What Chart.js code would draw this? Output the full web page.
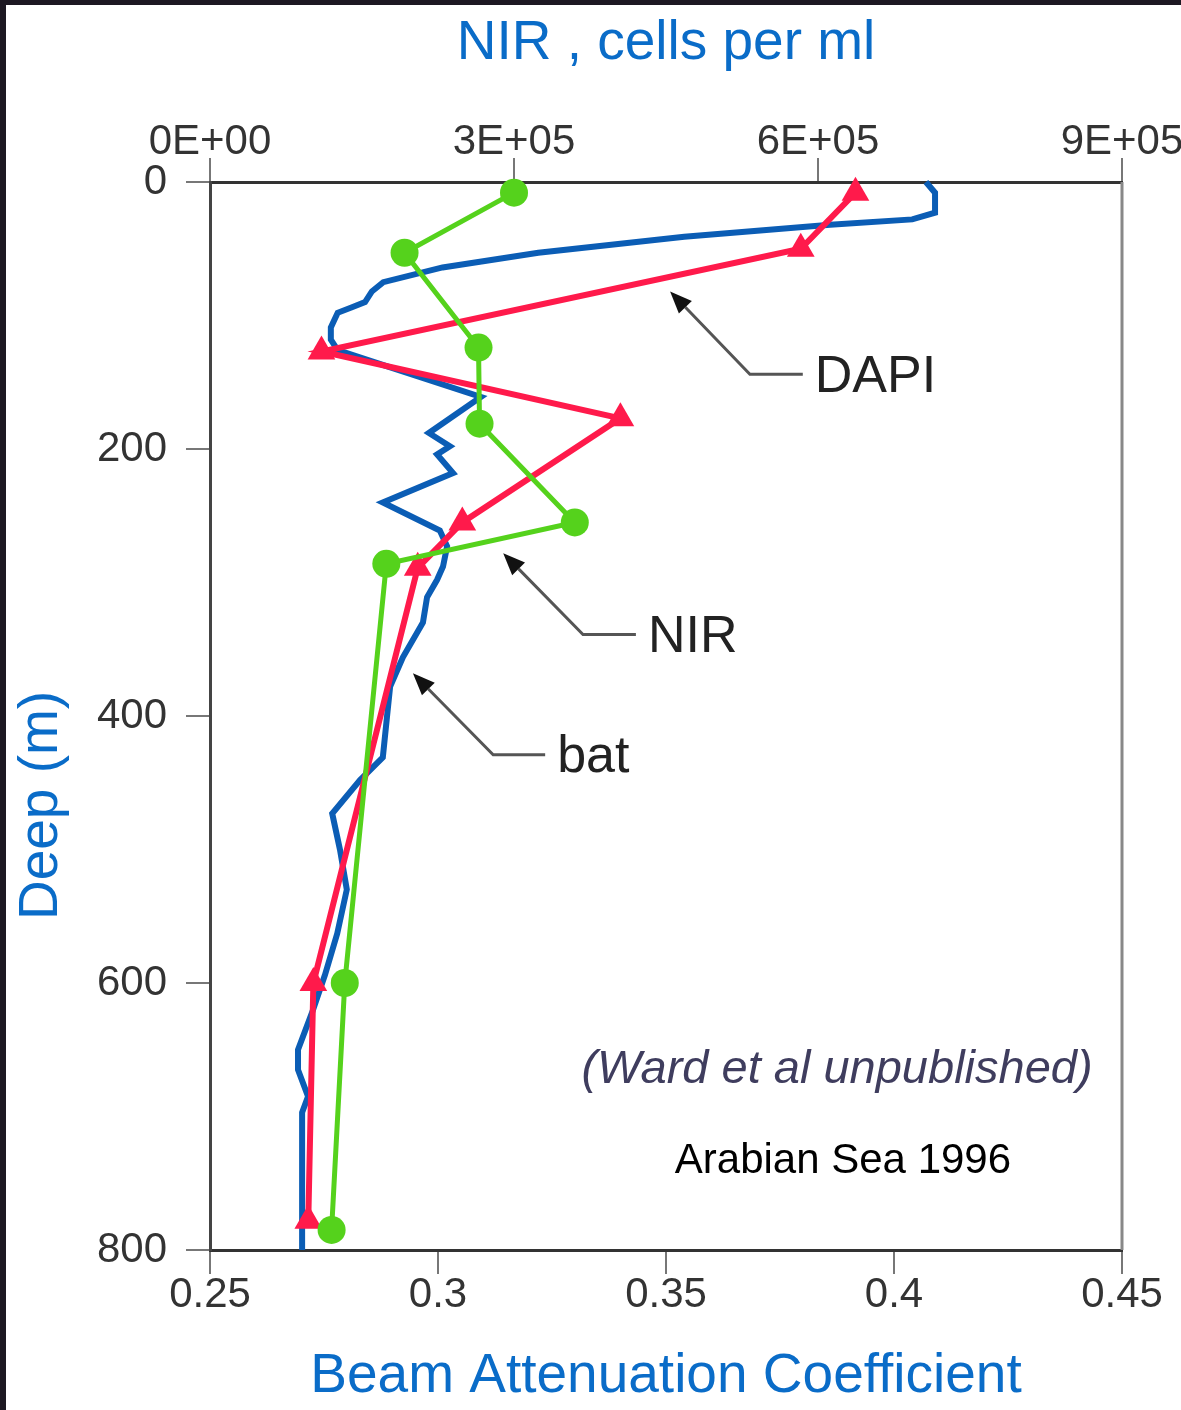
<!DOCTYPE html>
<html>
<head>
<meta charset="utf-8">
<script src="https://cdn.jsdelivr.net/npm/chart.js@4.4.1/dist/chart.umd.min.js"></script>
<style>
  html, body { margin: 0; padding: 0; background: #fff; }
  #wrap { position: relative; width: 1181px; height: 1410px; }
  #edgeTop { position: absolute; left: 0; top: 0; width: 1181px; height: 5px; background: #1d1822; }
  #edgeLeft { position: absolute; left: 0; top: 0; width: 6px; height: 1410px; background: #1d1822; }
</style>
</head>
<body>
<div id="wrap">
  <canvas id="myChart" width="1181" height="1410"></canvas>
  <div id="edgeTop"></div>
  <div id="edgeLeft"></div>
</div>
<script>
// NIR counts, cells per ml, against depth (m)
const nirDepth = [8, 53, 124, 181, 255, 286, 600, 785];
const nirCells = [300000, 192000, 265000, 266000, 360000, 174000, 133000, 120000];

// DAPI counts, cells per ml, against depth (m)
const dapiDepth = [8, 50, 127, 177, 255, 289, 600, 778];
const dapiCells = [637000, 583000, 110000, 405000, 249000, 205000, 102000, 97000];

// beam attenuation profile
const batDepth = [0, 8, 23, 28, 32, 41, 53, 64, 75, 82, 90, 94, 98, 109, 118, 126, 161, 188, 198, 204,
  218, 240, 261, 273, 288, 298, 311, 330, 356, 378, 401, 431, 448, 473, 500, 530, 563, 594, 620, 650,
  665, 685, 697, 800];
const batValue = [0.407, 0.409, 0.409, 0.404, 0.386, 0.354, 0.322, 0.301, 0.288, 0.2855, 0.284, 0.281,
  0.278, 0.2765, 0.2765, 0.278, 0.3094, 0.298, 0.3026, 0.2998, 0.3033, 0.2879, 0.3004, 0.302, 0.3011,
  0.2998, 0.2976, 0.2967, 0.2923, 0.2895, 0.2888, 0.2879, 0.2829, 0.2768, 0.2785, 0.28, 0.2779, 0.2752,
  0.2726, 0.2693, 0.2693, 0.2715, 0.2702, 0.2702];

// tick values and labels
const batTicks = [0.25, 0.3, 0.35, 0.4, 0.45];
const batTickLabels = ["0.25", "0.3", "0.35", "0.4", "0.45"];
const cellTicks = [0, 300000, 600000, 900000];
const cellTickLabels = ["0E+00", "3E+05", "6E+05", "9E+05"];
const depthTicks = [0, 200, 400, 600, 800];

// arrow labels, positioned in (attenuation, depth) units
const callouts = [
  { text: "DAPI", tip: [0.3509, 82], elbow: [0.3684, 144], end: [0.38, 144] },
  { text: "NIR", tip: [0.3143, 278], elbow: [0.3318, 339], end: [0.3434, 339] },
  { text: "bat", tip: [0.2945, 368], elbow: [0.3121, 429], end: [0.3235, 429] },
];

const FONT = "'Liberation Sans', Arial, Helvetica, sans-serif";
const BLUE_TEXT = "#0a6cc8";

function toPoints(xs, ys) {
  return xs.map((x, i) => ({ x: x, y: ys[i] }));
}

function fixedTicks(values) {
  return (axis) => {
    axis.ticks = values.map((v) => ({ value: v }));
  };
}

const tickFont = { family: FONT, size: 42, lineHeight: 1 };
const tickGrid = {
  display: true,
  drawOnChartArea: false,
  drawTicks: true,
  tickLength: 24,
  color: "#777",
  lineWidth: 2,
};

const notesPlugin = {
  id: "notes",
  afterDraw(chart) {
    const { ctx, chartArea, scales } = chart;
    const px = (v) => scales.x.getPixelForValue(v);
    const py = (d) => scales.y.getPixelForValue(d);

    // right-hand frame line
    ctx.save();
    ctx.strokeStyle = "#888";
    ctx.lineWidth = 3;
    ctx.beginPath();
    ctx.moveTo(chartArea.right, chartArea.top);
    ctx.lineTo(chartArea.right, chartArea.bottom);
    ctx.stroke();
    ctx.restore();

    // arrows with labels
    callouts.forEach((c) => {
      const tx = px(c.tip[0]), ty = py(c.tip[1]);
      const ex = px(c.elbow[0]), ey = py(c.elbow[1]);
      const hx = px(c.end[0]);
      const ang = Math.atan2(ty - ey, tx - ex);
      const headLen = 22, headHalf = 9;
      const bx = tx - Math.cos(ang) * headLen;
      const by = ty - Math.sin(ang) * headLen;

      ctx.save();
      ctx.strokeStyle = "#555";
      ctx.lineWidth = 3;
      ctx.beginPath();
      ctx.moveTo(hx, ey);
      ctx.lineTo(ex, ey);
      ctx.lineTo(bx, by);
      ctx.stroke();

      ctx.fillStyle = "#111";
      ctx.beginPath();
      ctx.moveTo(tx, ty);
      ctx.lineTo(bx + Math.sin(ang) * headHalf, by - Math.cos(ang) * headHalf);
      ctx.lineTo(bx - Math.sin(ang) * headHalf, by + Math.cos(ang) * headHalf);
      ctx.closePath();
      ctx.fill();

      ctx.fillStyle = "#222";
      ctx.font = "52px " + FONT;
      ctx.textAlign = "left";
      ctx.textBaseline = "middle";
      ctx.fillText(c.text, hx + 12, ey + 3);
      ctx.restore();
    });

    // source notes
    ctx.save();
    ctx.textAlign = "center";
    ctx.textBaseline = "middle";
    ctx.fillStyle = "#3f3d5e";
    ctx.font = "italic 47px " + FONT;
    ctx.fillText("(Ward et al unpublished)", px(0.3875), py(665));
    ctx.fillStyle = "#000";
    ctx.font = "42px " + FONT;
    ctx.fillText("Arabian Sea 1996", px(0.3888), py(734));

    // depth axis title
    ctx.translate(scales.y.left + 42, py(467));
    ctx.rotate(-Math.PI / 2);
    ctx.fillStyle = BLUE_TEXT;
    ctx.font = "55px " + FONT;
    ctx.fillText("Deep (m)", 0, 0);
    ctx.restore();
  },
};

const chart = new Chart(document.getElementById("myChart"), {
  type: "scatter",
  data: {
    datasets: [
      {
        label: "NIR",
        data: toPoints(nirCells, nirDepth),
        xAxisID: "x2",
        yAxisID: "y",
        showLine: true,
        borderColor: "#55d21c",
        borderWidth: 5,
        pointStyle: "circle",
        pointRadius: 14,
        pointBackgroundColor: "#55d21c",
        pointBorderWidth: 0,
        clip: false,
      },
      {
        label: "DAPI",
        data: toPoints(dapiCells, dapiDepth),
        xAxisID: "x2",
        yAxisID: "y",
        showLine: true,
        borderColor: "#ff1a4b",
        borderWidth: 6,
        pointStyle: "triangle",
        pointRadius: 16,
        pointBackgroundColor: "#ff1a4b",
        pointBorderWidth: 0,
        clip: false,
      },
      {
        label: "bat",
        data: toPoints(batValue, batDepth),
        xAxisID: "x",
        yAxisID: "y",
        showLine: true,
        borderColor: "#0b5db5",
        borderWidth: 6,
        pointRadius: 0,
        clip: false,
      },
    ],
  },
  options: {
    responsive: false,
    animation: false,
    devicePixelRatio: 1,
    layout: { padding: { left: 0, right: 59, top: 0, bottom: 0 } },
    plugins: {
      legend: { display: false },
      tooltip: { enabled: false },
    },
    scales: {
      x: {
        type: "linear",
        position: "bottom",
        min: 0.25,
        max: 0.45,
        afterBuildTicks: fixedTicks(batTicks),
        afterFit: (axis) => { axis.height = 160; },
        ticks: {
          font: tickFont,
          color: "#333",
          padding: 0,
          maxRotation: 0,
          callback: (v) => batTickLabels[batTicks.indexOf(v)],
        },
        grid: tickGrid,
        border: { display: true, color: "#333", width: 3 },
        title: {
          display: true,
          text: "Beam Attenuation Coefficient",
          color: BLUE_TEXT,
          font: { family: FONT, size: 55 },
          padding: { top: 0, bottom: 0 },
        },
      },
      x2: {
        type: "linear",
        position: "top",
        min: 0,
        max: 900000,
        afterBuildTicks: fixedTicks(cellTicks),
        afterFit: (axis) => { axis.height = 182; },
        ticks: {
          font: tickFont,
          color: "#333",
          padding: -5,
          maxRotation: 0,
          callback: (v) => cellTickLabels[cellTicks.indexOf(v)],
        },
        grid: tickGrid,
        border: { display: true, color: "#333", width: 3 },
        title: {
          display: true,
          text: "NIR , cells per ml",
          color: BLUE_TEXT,
          font: { family: FONT, size: 55 },
          padding: { top: 11, bottom: 0 },
        },
      },
      y: {
        type: "linear",
        position: "left",
        reverse: true,
        min: 0,
        max: 800,
        afterBuildTicks: fixedTicks(depthTicks),
        afterFit: (axis) => { axis.width = 210; },
        ticks: {
          font: tickFont,
          color: "#333",
          padding: 19,
        },
        grid: tickGrid,
        border: { display: true, color: "#444", width: 3 },
      },
    },
  },
  plugins: [notesPlugin],
});
</script>
</body>
</html>
